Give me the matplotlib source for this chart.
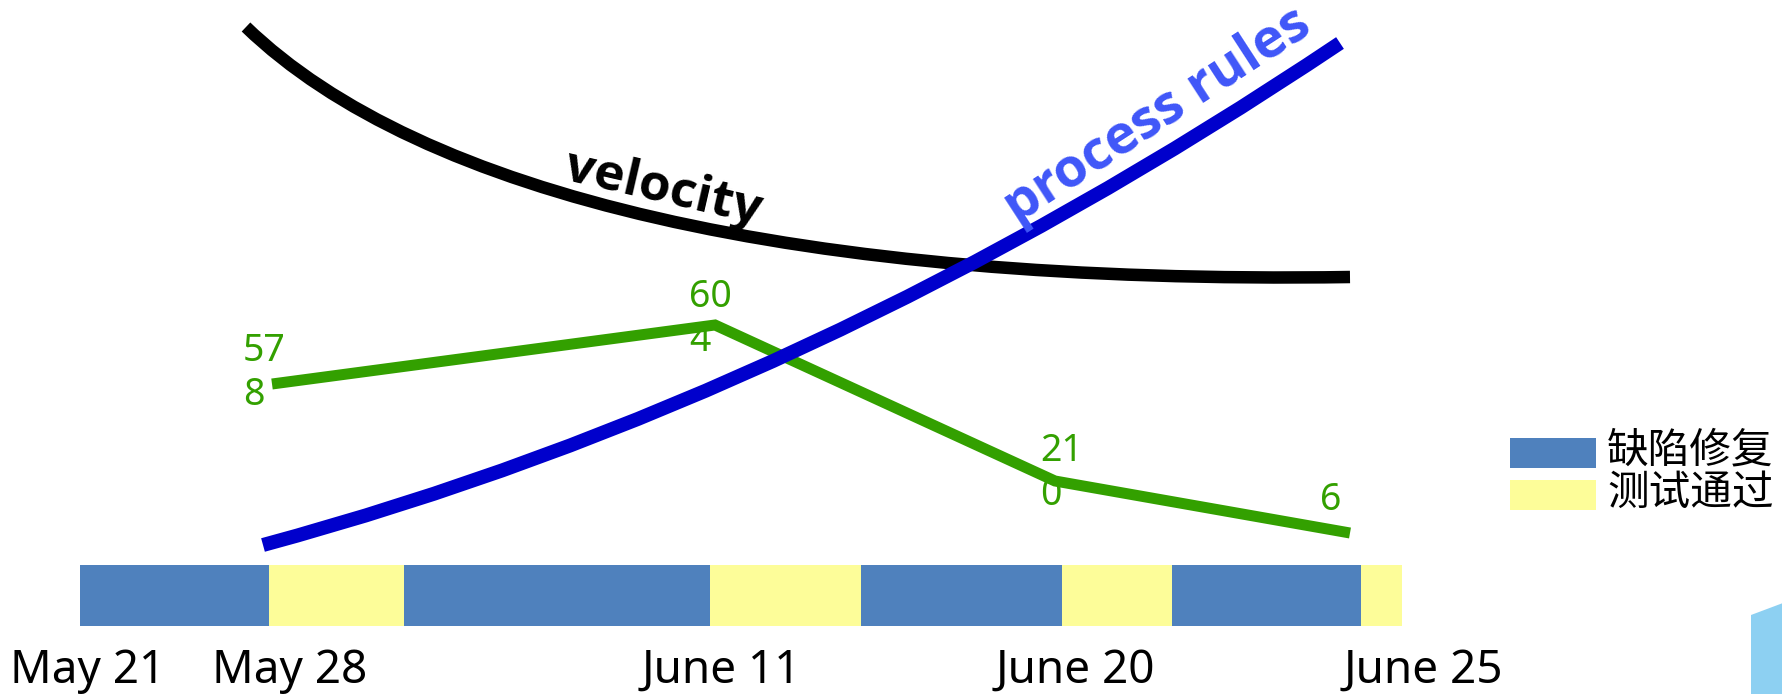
"""Release timeline sketch: velocity vs process rules, defect counts, fix/test phases."""
import numpy as np
import matplotlib
matplotlib.use("Agg")
import matplotlib.pyplot as plt
from matplotlib.path import Path
from matplotlib.patches import PathPatch

# ---- Data (x in timeline units, y as level above the bottom edge) ----
TICK_POS    = [88, 290, 721, 1075, 1423]
TICK_LABELS = ["May 21", "May 28", "June 11", "June 20", "June 25"]

PHASE_START  = 80
PHASE_WIDTHS = [189, 135, 306, 151, 201, 110, 189, 41]
PHASE_KINDS  = ["缺陷修复", "测试通过", "缺陷修复", "测试通过",
                "缺陷修复", "测试通过", "缺陷修复", "测试通过"]

DEFECT_X      = [272, 715, 1055, 1350]
DEFECT_LEVEL  = [310, 369, 213, 161]
DEFECT_COUNTS = [578, 604, 210, 6]

# smooth trend curves, given as bezier control points
VELOCITY_X = [246, 420, 800, 1350]
VELOCITY_Y = [667, 499, 409, 417]
RULES_X    = [263, 812, 1340]
RULES_Y    = [149, 297, 651]

# ---- Style ----
W, H, DPI   = 1783, 694, 100
PHASE_COLOR = {"缺陷修复": "#4f81bd", "测试通过": "#fdfd99"}
GREEN       = "#33a000"
BAR_Y, BAR_H = 68, 61
LABEL_OFFSETS = [(-29, 11), (-26, 6), (-15, 8), (-30, 33)]  # px from the point

plt.rcParams["font.family"] = ["Noto Sans", "Noto Sans CJK SC", "DejaVu Sans"]


def px(v):
    return v * 72.0 / DPI


def wrap2(n):
    s = str(n)
    return "\n".join(s[i:i + 2] for i in range(0, len(s), 2))


fig = plt.figure(figsize=(W / DPI, H / DPI), dpi=DPI)
ax = fig.add_axes([0, 0, 1, 1])
ax.set_xlim(0, W)
ax.set_ylim(0, H)

# phase bar
lefts = PHASE_START + np.concatenate([[0], np.cumsum(PHASE_WIDTHS)[:-1]])
ax.barh(BAR_Y, PHASE_WIDTHS, left=lefts, height=BAR_H, align="edge",
        color=[PHASE_COLOR[k] for k in PHASE_KINDS], linewidth=0, zorder=1)

# velocity (cubic) and process rules (quadratic) curves
vel = Path(list(zip(VELOCITY_X, VELOCITY_Y)),
           [Path.MOVETO, Path.CURVE4, Path.CURVE4, Path.CURVE4])
ax.add_patch(PathPatch(vel, fill=False, edgecolor="black", lw=px(12.5),
                       capstyle="butt", zorder=3))
rules = Path(list(zip(RULES_X, RULES_Y)),
             [Path.MOVETO, Path.CURVE3, Path.CURVE3])
ax.add_patch(PathPatch(rules, fill=False, edgecolor="#0000cc", lw=px(14),
                       capstyle="butt", zorder=4))

# defect count line
ax.plot(DEFECT_X, DEFECT_LEVEL, color=GREEN, lw=px(11),
        solid_capstyle="butt", solid_joinstyle="miter", zorder=2)
for x, y, n, (dx, dy) in zip(DEFECT_X, DEFECT_LEVEL, DEFECT_COUNTS, LABEL_OFFSETS):
    ax.text(x + dx, y + dy, wrap2(n), color=GREEN, fontsize=27,
            ha="left", va="center", linespacing=1.2, zorder=5)

ax.text(663, 505, "velocity", fontsize=37, fontweight="bold", color="black",
        family=["Open Sans", "DejaVu Sans"],
        rotation=-13, rotation_mode="anchor", ha="center", va="center", zorder=5)
ax.text(1158, 578, "process rules", fontsize=39, fontweight="bold", color="#3f56f8",
        family=["Open Sans", "DejaVu Sans"],
        rotation=33, rotation_mode="anchor", ha="center", va="center", zorder=5)

# legend
for i, kind in enumerate(["缺陷修复", "测试通过"]):
    y0 = 226 - i * 42
    ax.add_patch(plt.Rectangle((1510, y0), 86, 30, color=PHASE_COLOR[kind],
                               linewidth=0))
    ax.text(1607, y0 + 17, kind, fontsize=30, va="center", ha="left",
            family=["Noto Sans CJK SC", "DejaVu Sans"])

# decorative corner shape
ax.fill([1751, 1783, 1783, 1751], [79, 91, 0, 0], color="#8dd0f2", lw=0)

# date axis
ax.spines["bottom"].set_position(("data", 46))
for s in ax.spines.values():
    s.set_visible(False)
ax.set_xticks(TICK_POS)
ax.set_xticklabels(TICK_LABELS, fontsize=33)
ax.tick_params(axis="x", length=0, pad=0)
ax.set_yticks([])

fig.savefig("out.png", dpi=DPI)
